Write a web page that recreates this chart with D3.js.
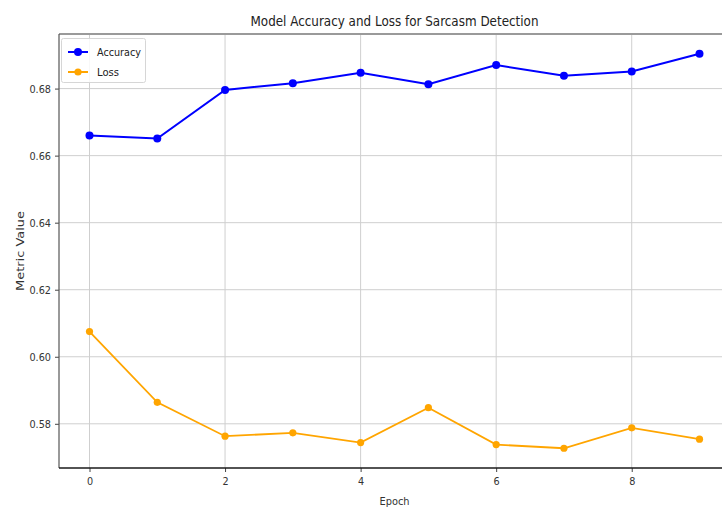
<!DOCTYPE html>
<html>
<head>
<meta charset="utf-8">
<script src="https://cdn.jsdelivr.net/npm/d3@7"></script>
<style>
  html, body { margin: 0; padding: 0; background: #fff; }
  svg { display: block; font-family: "DejaVu Sans", sans-serif; }
</style>
</head>
<body>
<svg id="chart" width="722" height="509"></svg>
<script>
// Training history per epoch
const epochs = [0, 1, 2, 3, 4, 5, 6, 7, 8, 9];
const accuracy = [0.6660, 0.6651, 0.6796, 0.6816, 0.6847, 0.6813, 0.6870, 0.6838, 0.6851, 0.6904];
const loss = [0.6075, 0.5864, 0.5763, 0.5773, 0.5744, 0.5848, 0.5738, 0.5727, 0.5788, 0.5754];
const xTicks = [0, 2, 4, 6, 8];
const yTicks = [0.58, 0.60, 0.62, 0.64, 0.66, 0.68];
const seriesNames = ["Accuracy", "Loss"];
const seriesColors = ["#0000ff", "#ffa500"];

const svg = d3.select("#chart");
const W = 722, H = 509;
const plot = { left: 59, right: 730, top: 34, bottom: 468 };

svg.append("rect").attr("width", W).attr("height", H).attr("fill", "#fff");

// Narrow the rendered text to the condensed look of the labels
function squeeze(sel, f) {
  sel.each(function () {
    const w = this.getComputedTextLength();
    this.setAttribute("textLength", w * f);
    this.setAttribute("lengthAdjust", "spacingAndGlyphs");
  });
}
function fitTo(sel, w) {
  sel.attr("textLength", w).attr("lengthAdjust", "spacingAndGlyphs");
}

// Matplotlib-style 5% margins around the data
const allVals = accuracy.concat(loss);
const yMin = d3.min(allVals), yMax = d3.max(allVals);
const yPad = (yMax - yMin) * 0.05;
const xPad = (d3.max(epochs) - d3.min(epochs)) * 0.05;

const x = d3.scaleLinear()
  .domain([d3.min(epochs) - xPad, d3.max(epochs) + xPad])
  .range([plot.left, plot.right]);
const y = d3.scaleLinear()
  .domain([yMin - yPad, yMax + yPad])
  .range([plot.bottom, plot.top]);

// Grid
const grid = svg.append("g").attr("stroke", "#cfcfcf").attr("stroke-width", 1);
grid.selectAll("line.v").data(xTicks).join("line")
  .attr("x1", d => x(d)).attr("x2", d => x(d))
  .attr("y1", plot.top).attr("y2", plot.bottom);
grid.selectAll("line.h").data(yTicks).join("line")
  .attr("x1", plot.left).attr("x2", plot.right)
  .attr("y1", d => y(d)).attr("y2", d => y(d));

// Axes
const xAxis = svg.append("g")
  .attr("transform", `translate(0,${plot.bottom})`)
  .call(d3.axisBottom(x).tickValues(xTicks).tickFormat(d3.format("d")).tickSize(4).tickPadding(5).tickSizeOuter(0));
const yAxis = svg.append("g")
  .attr("transform", `translate(${plot.left},0)`)
  .call(d3.axisLeft(y).tickValues(yTicks).tickFormat(d3.format(".2f")).tickSize(4).tickPadding(4).tickSizeOuter(0));

[xAxis, yAxis].forEach(a => {
  a.select(".domain").remove();
  a.selectAll(".tick line").attr("stroke", "#444");
  a.selectAll(".tick text").attr("fill", "#333").attr("font-size", 11)
    .attr("font-family", "DejaVu Sans, sans-serif");
  squeeze(a.selectAll(".tick text"), 0.88);
});

// Spines
svg.append("line").attr("x1", plot.left).attr("x2", plot.right)
  .attr("y1", plot.top).attr("y2", plot.top)
  .attr("stroke", "#9a9a9a").attr("stroke-width", 2);
svg.append("line").attr("x1", plot.left).attr("x2", plot.left)
  .attr("y1", plot.top).attr("y2", plot.bottom)
  .attr("stroke", "#555").attr("stroke-width", 1.2);
svg.append("line").attr("x1", plot.left).attr("x2", plot.right)
  .attr("y1", plot.bottom).attr("y2", plot.bottom)
  .attr("stroke", "#1a1a1a").attr("stroke-width", 1.6);

// Series
const series = [accuracy, loss];
const line = d3.line().x((d, i) => x(epochs[i])).y(d => y(d));
series.forEach((vals, k) => {
  const g = svg.append("g");
  g.append("path").datum(vals)
    .attr("fill", "none")
    .attr("stroke", seriesColors[k])
    .attr("stroke-width", k === 0 ? 2 : 1.8)
    .attr("d", line);
  g.selectAll("circle").data(vals).join("circle")
    .attr("cx", (d, i) => x(epochs[i]))
    .attr("cy", d => y(d))
    .attr("r", k === 0 ? 4 : 3.6)
    .attr("fill", seriesColors[k]);
});

// Title and axis labels
const title = svg.append("text")
  .attr("x", (plot.left + plot.right) / 2).attr("y", 26)
  .attr("text-anchor", "middle").attr("font-size", 14).attr("fill", "#222")
  .text("Model Accuracy and Loss for Sarcasm Detection");
fitTo(title, 288);

const xl = svg.append("text")
  .attr("x", (plot.left + plot.right) / 2).attr("y", 505)
  .attr("text-anchor", "middle").attr("font-size", 11).attr("fill", "#333")
  .text("Epoch");
fitTo(xl, 30);

const yl = svg.append("text")
  .attr("transform", `translate(24,${(plot.top + plot.bottom) / 2}) rotate(-90)`)
  .attr("text-anchor", "middle").attr("font-size", 11).attr("fill", "#333")
  .text("Metric Value");
fitTo(yl, 80);

// Legend
const lg = svg.append("g");
lg.append("rect").attr("x", 61.5).attr("y", 38.5).attr("width", 84).attr("height", 44)
  .attr("rx", 2).attr("fill", "#fff").attr("fill-opacity", 0.85)
  .attr("stroke", "#d6d6d6");
seriesNames.forEach((name, k) => {
  const yy = 52 + k * 20;
  lg.append("line").attr("x1", 68).attr("x2", 88).attr("y1", yy).attr("y2", yy)
    .attr("stroke", seriesColors[k]).attr("stroke-width", 2);
  lg.append("circle").attr("cx", 78).attr("cy", yy).attr("r", k === 0 ? 4 : 3.6)
    .attr("fill", seriesColors[k]);
  const t = lg.append("text").attr("x", 97).attr("y", yy + 4)
    .attr("font-size", 11).attr("fill", "#222").text(name);
  fitTo(t, k === 0 ? 44 : 22);
});
</script>
</body>
</html>
